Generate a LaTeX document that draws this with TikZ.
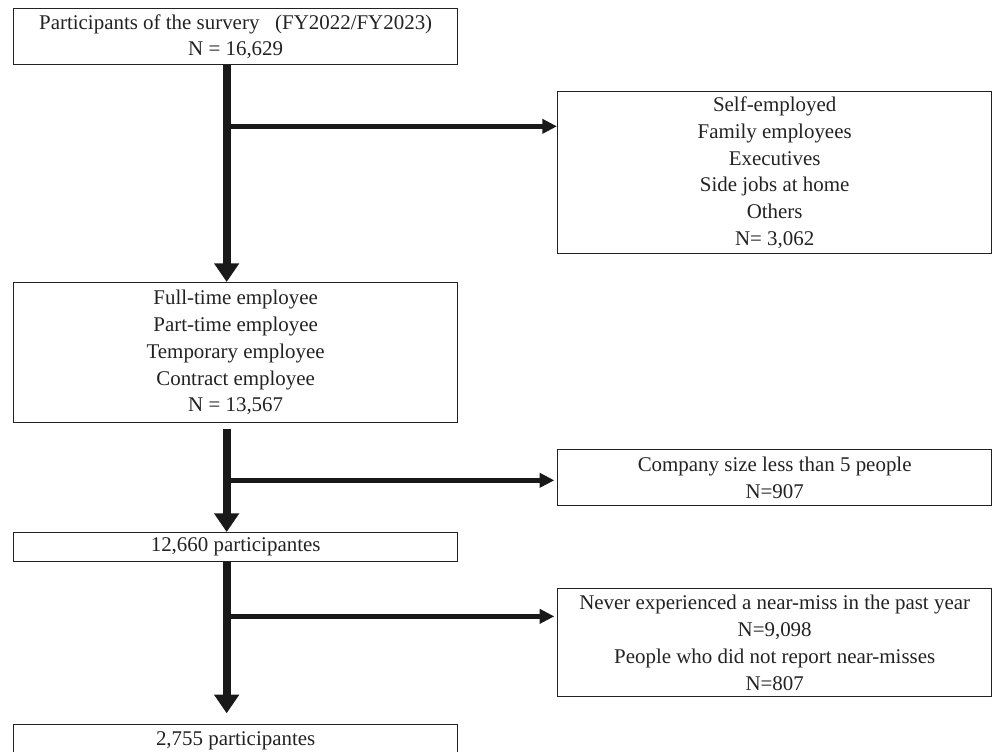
\documentclass[tikz,border=0pt]{standalone}
\usepackage{fontspec}
\setmainfont{Liberation Serif}
\usetikzlibrary{positioning,arrows.meta}

\definecolor{inkgray}{HTML}{222222}

\tikzset{
  mainbox/.style={draw=inkgray, line width=1pt, minimum width=333pt, inner sep=0pt,
    align=center, text=inkgray, font=\fontsize{15.7pt}{20.1pt}\selectfont},
  sidebox/.style={mainbox, minimum width=325.5pt},
  trunk/.style={draw=black!90, line width=6pt, -{Triangle[width=18pt,length=14pt]}},
  branch/.style={draw=black!90, line width=3.5pt, -{Triangle[width=10.5pt,length=11pt]}},
}

\begin{document}
\begin{tikzpicture}[node distance=2cm, on grid]
    \node[mainbox, minimum height=42pt] (survey)
        {Participants of the survery~~~(FY2022/FY2023)\\N = 16,629};
    \node[mainbox, minimum height=105pt] (employees) [below=237pt of survey]
        {Full-time employee\\Part-time employee\\Temporary employee\\Contract employee\\N = 13,567};
    \node[mainbox, minimum height=21.75pt] (remain) [below=145.9pt of employees]
        {12,660 participantes};
    \node[mainbox, minimum height=24pt] (final) [below=145.1pt of remain]
        {2,755 participantes};

    \node[sidebox, minimum height=121.5pt] (others) [below right=102pt and 404.25pt of survey]
        {Self-employed\\Family employees\\Executives\\Side jobs at home\\Others\\N= 3,062};
    \node[sidebox, minimum height=42pt] (small) [below right=93.75pt and 404.25pt of employees]
        {Company size less than 5 people\\N=907};
    \node[sidebox, minimum height=81pt] (nearmiss) [below right=71.6pt and 404.25pt of remain]
        {Never experienced a near-miss in the past year\\N=9,098\\People who did not report near-misses\\N=807};

    % split points on the main line
    \coordinate (split1) at ([xshift=-6.75pt,yshift=-45.75pt]survey.south);
    \coordinate (split2) at ([xshift=-6.75pt,yshift=-42.75pt]employees.south);
    \coordinate (split3) at ([xshift=-6.75pt,yshift=-40.5pt]remain.south);

    \draw[trunk] ([xshift=-6.75pt]survey.south) -- ([xshift=-6.75pt]employees.north);
    \draw[trunk, shorten <=4pt] ([xshift=-6.75pt]employees.south) -- ([xshift=-6.75pt]remain.north);
    \draw[trunk, shorten >=8pt] ([xshift=-6.75pt]remain.south) -- ([xshift=-6.75pt]final.north);

    \draw[branch] (split1) -- (split1 -| others.west);
    \draw[branch, shorten >=2pt] (split2) -- (split2 -| small.west);
    \draw[branch, shorten >=2pt] (split3) -- (split3 -| nearmiss.west);

    \pgfresetboundingbox
    \useasboundingbox ([shift={(-9.75pt,6pt)}]survey.north west) rectangle ++(744pt,-564pt);
\end{tikzpicture}
\end{document}
